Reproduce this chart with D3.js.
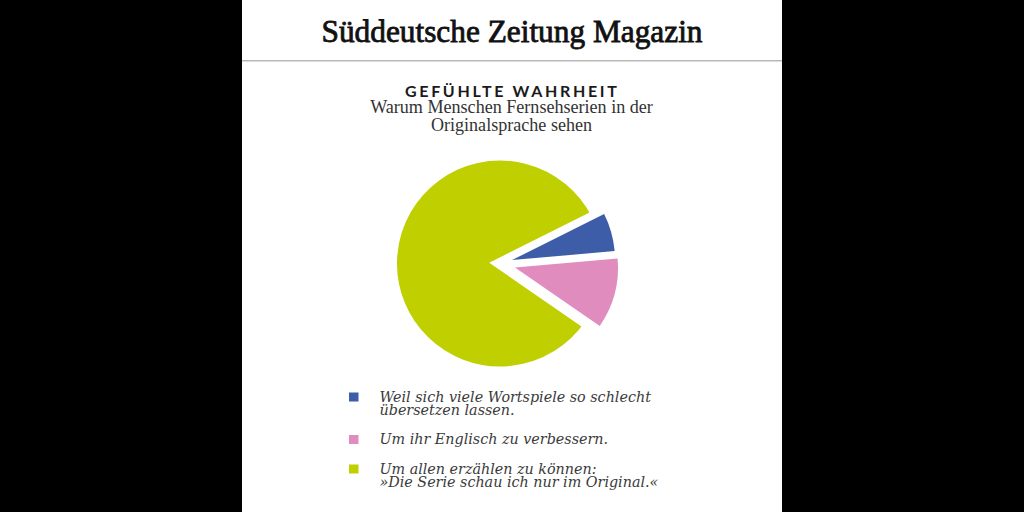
<!DOCTYPE html>
<html>
<head>
<meta charset="utf-8">
<script src="https://cdn.jsdelivr.net/npm/d3@7"></script>
<style>
  html, body { margin: 0; padding: 0; background: #000; }
  svg { display: block; }
</style>
</head>
<body>
<svg id="chart" width="1024" height="512"></svg>
<script>
// ---- data ----
const brand = "Süddeutsche Zeitung Magazin";
const title = "GEFÜHLTE WAHRHEIT";
const subtitleLines = ["Warum Menschen Fernsehserien in der", "Originalsprache sehen"];
const categories = [
  "Weil sich viele Wortspiele so schlecht übersetzen lassen.",
  "Um ihr Englisch zu verbessern.",
  "Um allen erzählen zu können: »Die Serie schau ich nur im Original.«"
];
const legendLines = [
  ["Weil sich viele Wortspiele so schlecht", "übersetzen lassen."],
  ["Um ihr Englisch zu verbessern."],
  ["Um allen erzählen zu können:", "»Die Serie schau ich nur im Original.«"]
];
const values = [6, 11, 83];
const colors = ["#3d5da8", "#e08cbf", "#bfcf00"];

// ---- layout ----
const svg = d3.select("#chart");
const W = 1024, H = 512;
const panelX0 = 242, panelX1 = 782;
const cx = 512;

svg.append("rect").attr("x", 0).attr("y", 0).attr("width", W).attr("height", H).attr("fill", "#000");
svg.append("rect").attr("x", panelX0).attr("y", 0).attr("width", panelX1 - panelX0).attr("height", H).attr("fill", "#fff");

// header
svg.append("text")
  .attr("x", cx).attr("y", 42)
  .attr("text-anchor", "middle")
  .attr("font-family", "Liberation Serif, serif")
  .attr("font-size", 31)
  .attr("textLength", 381)
  .attr("lengthAdjust", "spacingAndGlyphs")
  .attr("fill", "#111")
  .attr("stroke", "#111")
  .attr("stroke-width", 0.8)
  .text(brand);

svg.append("line")
  .attr("x1", panelX0).attr("x2", panelX1)
  .attr("y1", 60.75).attr("y2", 60.75)
  .attr("stroke", "#b8b8b8").attr("stroke-width", 1.5);

// title
svg.append("text")
  .attr("x", 511.5).attr("y", 96.5)
  .attr("text-anchor", "middle")
  .attr("font-family", "Lato, sans-serif")
  .attr("font-weight", 700)
  .attr("font-size", 16)
  .attr("letter-spacing", 1.2)
  .attr("textLength", 213)
  .attr("lengthAdjust", "spacing")
  .attr("fill", "#1a1a1a")
  .text(title);

const subs = svg.selectAll("text.sub").data(subtitleLines).join("text")
  .attr("class", "sub")
  .attr("x", 511.5)
  .attr("y", (d, i) => 112.5 + i * 18)
  .attr("text-anchor", "middle")
  .attr("font-family", "Liberation Serif, serif")
  .attr("font-size", 16.5)
  .attr("fill", "#333")
  .text(d => d);
{
  let m = 0;
  subs.each(function() { m = Math.max(m, this.getComputedTextLength()); });
  subs.attr("font-size", 16.5 * 283 / m);
}

// ---- pie ----
const pcx = 500, pcy = 263.5, R = 103;
const a0 = 63.4 * Math.PI / 180;
const pie = d3.pie().sort(null).value(d => d).startAngle(a0).endAngle(a0 + 2 * Math.PI);
const arcs = pie(values);

const g = svg.append("g").attr("transform", `translate(${pcx},${pcy})`);
const gapW = 11;
const arcMain = d3.arc().innerRadius(0).outerRadius(R + gapW / 2);
const arcSmall = d3.arc().innerRadius(0).outerRadius(R);
const explode = [12.5, 15.5, 0];

// the big slice first, with a white edge that opens the gap
g.selectAll("path.big").data(arcs.filter(d => d.index === 2)).join("path")
  .attr("class", "big")
  .attr("d", arcMain)
  .attr("fill", d => colors[d.index])
  .attr("stroke", "#fff")
  .attr("stroke-width", gapW)
  .attr("stroke-linejoin", "miter");

g.selectAll("path.small").data(arcs.filter(d => d.index !== 2)).join("path")
  .attr("class", "small")
  .attr("d", arcSmall)
  .attr("fill", d => colors[d.index])
  .attr("transform", d => {
    const m = (d.startAngle + d.endAngle) / 2;
    const o = explode[d.index];
    return `translate(${Math.sin(m) * o},${-Math.cos(m) * o})`;
  });

// ---- legend ----
const legX = 349, textX = 379.5;
const legTop = [401.5, 444, 473.5];
const lineH = 13.3;
const lg = svg.append("g");
const items = lg.selectAll("g.item").data(categories).join("g").attr("class", "item");
items.append("rect")
  .attr("x", legX).attr("y", (d, i) => legTop[i] - 9)
  .attr("width", 9.5).attr("height", 9)
  .attr("fill", (d, i) => colors[i]);
items.each(function(d, i) {
  d3.select(this).selectAll("text").data(legendLines[i]).join("text")
    .attr("x", textX)
    .attr("y", (t, j) => legTop[i] + j * lineH)
    .attr("font-family", "DejaVu Serif, serif")
    .attr("font-style", "italic")
    .attr("font-size", 14)
    .attr("fill", "#3a3a3a")
    .text(t => t);
});
// fit legend font so the longest line matches the reference width
const texts = lg.selectAll("text");
let maxLen = 0;
texts.each(function() { maxLen = Math.max(maxLen, this.getComputedTextLength()); });
texts.attr("font-size", 14 * 279 / maxLen);
</script>
</body>
</html>
